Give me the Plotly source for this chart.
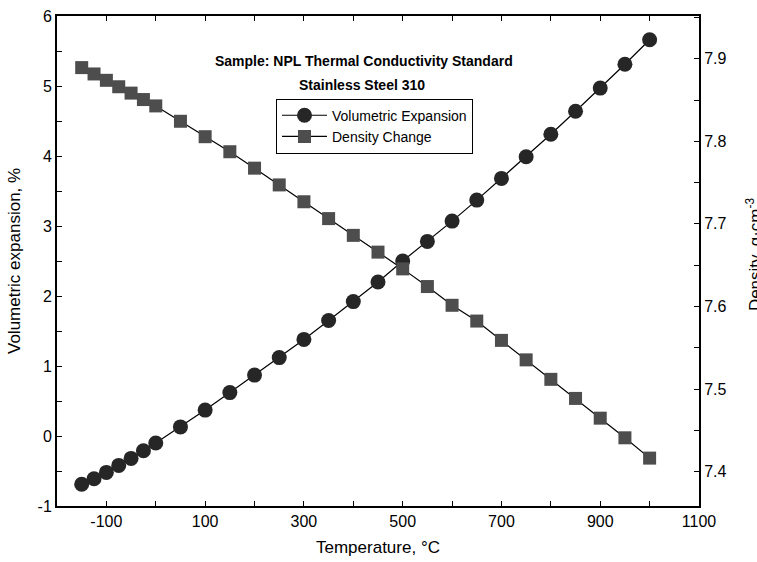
import plotly.graph_objects as go

# ---- data ----
temperature = [-150, -125, -100, -75, -50, -25, 0, 50, 100, 150, 200, 250, 300, 350,
               400, 450, 500, 550, 600, 650, 700, 750, 800, 850, 900, 950, 1000]
vol_expansion = [-0.69, -0.61, -0.52, -0.42, -0.32, -0.21, -0.10, 0.13, 0.37, 0.62,
                 0.87, 1.12, 1.38, 1.65, 1.92, 2.20, 2.50, 2.78, 3.07, 3.37, 3.68,
                 3.99, 4.31, 4.64, 4.97, 5.31, 5.66]
density = [7.8893, 7.8816, 7.8739, 7.8661, 7.8584, 7.8506, 7.8429, 7.8243, 7.8056,
           7.7874, 7.7675, 7.7472, 7.7268, 7.7064, 7.6861, 7.6658, 7.6455, 7.6241,
           7.6014, 7.5823, 7.5589, 7.5353, 7.5117, 7.4886, 7.4647, 7.4409, 7.4163]

x_tickvals = [-100, 100, 300, 500, 700, 900, 1100]
x_ticktext = ["-100", "100", "300", "500", "700", "900", "1100"]
y_tickvals = [-1, 0, 1, 2, 3, 4, 5, 6]
y_ticktext = ["-1", "0", "1", "2", "3", "4", "5", "6"]
y2_tickvals = [7.4, 7.5, 7.6, 7.7, 7.8, 7.9]
y2_ticktext = ["7.4", "7.5", "7.6", "7.7", "7.8", "7.9"]

x_range = [-200, 1100]
y_range = [-1, 6]
y2_range = [7.3583, 7.9518]

title_lines = ["Sample: NPL Thermal Conductivity Standard", "Stainless Steel 310"]

FONT = "Liberation Sans, Arial, Helvetica, sans-serif"

# layout geometry (pixels)
W, H = 757, 562
L, R, T, B = 57, 699, 8, 506
PW, PH = R - L, B - T


def px_x(x):
    return (x - L) / PW


def px_y(y):
    return (B - y) / PH


fig = go.Figure()
fig.add_trace(go.Scatter(
    x=temperature, y=vol_expansion, name="Volumetric Expansion",
    mode="lines+markers",
    line=dict(color="black", width=1.2),
    marker=dict(symbol="circle", size=15, color="#262626", line=dict(width=0)),
))
fig.add_trace(go.Scatter(
    x=temperature, y=density, name="Density Change", yaxis="y2",
    mode="lines+markers",
    line=dict(color="black", width=1.2),
    marker=dict(symbol="square", size=13, color="#4d4d4d", line=dict(width=0)),
))

axis_common = dict(
    showgrid=False, zeroline=False, showline=True, linewidth=2, linecolor="black",
    ticks="inside", ticklen=5, tickwidth=1, tickcolor="black",
    tickfont=dict(family=FONT, size=16, color="black"),
)

fig.update_layout(
    width=W, height=H,
    margin=dict(l=L, r=W - R, t=T, b=H - B, pad=0),
    paper_bgcolor="white", plot_bgcolor="white",
    font=dict(family=FONT, color="black"),
    showlegend=True,
    legend=dict(
        x=px_x(276), y=px_y(92), xanchor="left", yanchor="top",
        bordercolor="black", borderwidth=1, bgcolor="white",
        font=dict(family=FONT, size=14, color="black"),
        tracegroupgap=0, itemwidth=45,
    ),
    xaxis=dict(
        range=x_range, tickvals=x_tickvals, ticktext=x_ticktext, mirror="ticks",
        minor=dict(dtick=100, tick0=-100, ticks="inside", ticklen=5, tickcolor="black", showgrid=False),
        **axis_common,
    ),
    yaxis=dict(
        range=y_range, tickvals=y_tickvals, ticktext=y_ticktext,
        minor=dict(dtick=0.5, tick0=0, ticks="inside", ticklen=5, tickcolor="black", showgrid=False),
        **axis_common,
    ),
    yaxis2=dict(
        range=y2_range, overlaying="y", side="right", tickvals=y2_tickvals, ticktext=y2_ticktext,
        minor=dict(dtick=0.05, tick0=7.4, ticks="inside", ticklen=5, tickcolor="black", showgrid=False),
        **axis_common,
    ),
)

annotations = [
    dict(text="<b>%s</b>" % title_lines[0], x=px_x(364), y=px_y(54), xref="paper", yref="paper",
         xanchor="center", yanchor="middle", showarrow=False,
         font=dict(family=FONT, size=14, color="black")),
    dict(text="<b>%s</b>" % title_lines[1], x=px_x(362), y=px_y(78), xref="paper", yref="paper",
         xanchor="center", yanchor="middle", showarrow=False,
         font=dict(family=FONT, size=14, color="black")),
    dict(text="Temperature, °C", x=px_x(378), y=px_y(548), xref="paper", yref="paper",
         xanchor="center", yanchor="middle", showarrow=False,
         font=dict(family=FONT, size=17, color="black")),
    dict(text="Volumetric expansion, %", x=px_x(14), y=px_y(257), xref="paper", yref="paper",
         xanchor="center", yanchor="middle", showarrow=False, textangle=-90,
         font=dict(family=FONT, size=17, color="black")),
    dict(text="Density, g·cm<sup>-3</sup>", x=px_x(754), y=px_y(250), xref="paper", yref="paper",
         xanchor="center", yanchor="middle", showarrow=False, textangle=-90,
         font=dict(family=FONT, size=17, color="black")),
]
fig.update_layout(annotations=annotations)

fig.write_html("out.html")
